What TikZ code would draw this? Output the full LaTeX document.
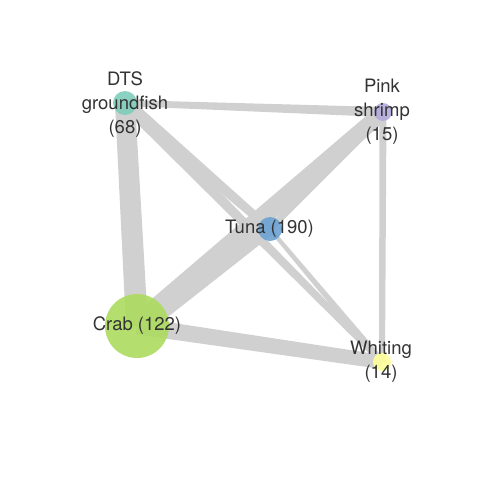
\documentclass[tikz,border=0pt]{standalone}
\usepackage{fontspec}
\setmainfont{TeX Gyre Heros}
\usetikzlibrary{calc}
\definecolor{edgec}{RGB}{208,208,208}
\definecolor{txt}{RGB}{51,51,51}
\definecolor{cdts}{RGB}{127,205,187}
\definecolor{cpink}{RGB}{180,170,220}
\definecolor{ctuna}{RGB}{108,162,210}
\definecolor{ccrab}{RGB}{172,220,94}
\definecolor{cwhit}{RGB}{255,255,153}
\pgfdeclarelayer{bg}
\pgfsetlayers{bg,main}
\newcommand\tedge[4]{%
  \fill[edgec] ($(#1)!#3pt!90:(#2)$) -- ($(#2)!#4pt!-90:(#1)$) --
    ($(#2)!#4pt!90:(#1)$) -- ($(#1)!#3pt!-90:(#2)$) -- cycle;}
\tikzset{
  fish/.style={circle, inner sep=0pt, fill opacity=0.9, draw=none},
  lbl/.style={text=txt, align=center, font=\fontsize{18.5}{24}\selectfont, inner sep=0pt}
}
\begin{document}
\begin{tikzpicture}[x=1pt,y=-1pt]
\useasboundingbox (0,0) rectangle (480,480);
\node[fish, fill=cdts, minimum size=24pt] (dts) at (125,103) {};
\node[fish, fill=cpink, minimum size=18pt] (pink) at (383,112) {};
\node[fish, fill=ctuna, minimum size=24pt] (tuna) at (270,229) {};
\node[fish, fill=ccrab, minimum size=64pt] (crab) at (137,326) {};
\node[fish, fill=cwhit, minimum size=18pt] (whit) at (382,362) {};
\begin{pgfonlayer}{bg}
\tedge{dts.center}{crab.center}{10}{11}
\tedge{dts.center}{pink.center}{3}{5}
\tedge{dts.center}{tuna.center}{7}{4}
\tedge{dts.center}{whit.center}{6}{3}
\tedge{crab.center}{tuna.center}{12}{6}
\tedge{crab.center}{pink.center}{11}{8}
\tedge{crab.center}{whit.center}{8.5}{7}
\tedge{tuna.center}{pink.center}{3}{6}
\tedge{tuna.center}{whit.center}{2}{3.5}
\tedge{pink.center}{whit.center}{3.5}{3}
\end{pgfonlayer}
\node[lbl] (dtsl) at (125,105) {DTS\\groundfish\\(68)};
\node[lbl] (pinkl) at (382,112) {Pink\\shrimp\\(15)};
\node[lbl] (tunal) at (269.5,229) {Tuna (190)};
\node[lbl] (crabl) at (137,326) {Crab (122)};
\node[lbl] (whitl) at (381,362) {Whiting\\(14)};
\end{tikzpicture}
\end{document}
